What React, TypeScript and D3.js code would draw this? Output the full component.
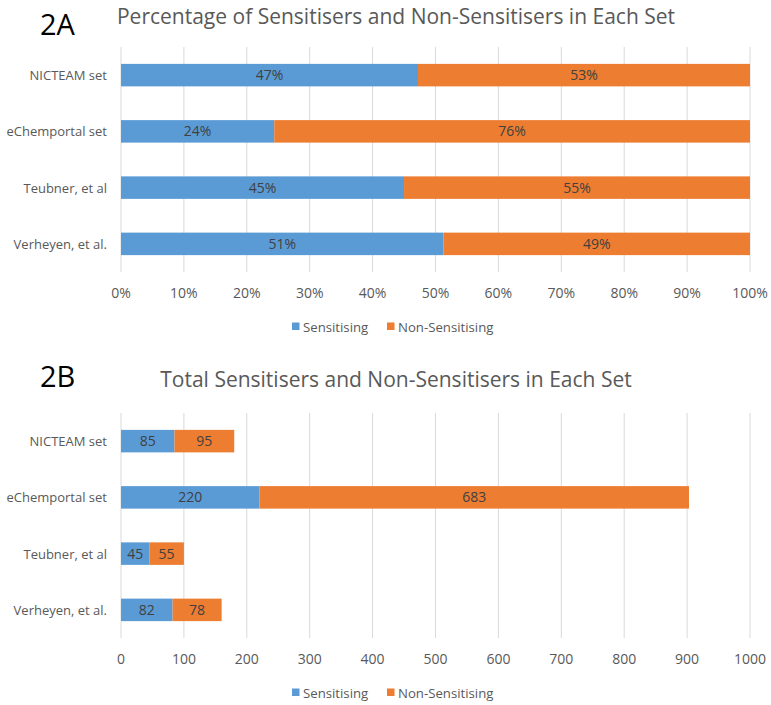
import React from "react";
import * as d3 from "d3";

const categories = ["NICTEAM set", "eChemportal set", "Teubner, et al", "Verheyen, et al."];
const sensitising = [85, 220, 45, 82];
const nonSensitising = [95, 683, 55, 78];
const seriesNames = ["Sensitising", "Non-Sensitising"];
const pctTicks = [0, 10, 20, 30, 40, 50, 60, 70, 80, 90, 100];
const countTicks = [0, 100, 200, 300, 400, 500, 600, 700, 800, 900, 1000];

const COLORS = ["#5B9BD5", "#ED7D31"];
const FONT = "'Open Sans', sans-serif";
const TEXT = "#595959";
const LABEL = "#404040";
const GRID = "#D9D9D9";

type PanelProps = {
  top: number;
  tag: string;
  title: string;
  percent: boolean;
};

function Panel({ top, tag, title, percent }: PanelProps) {
  const left = 121;
  const right = 750;
  const plotTop = top + 47;
  const plotBottom = top + 272;
  const ticks = percent ? pctTicks : countTicks;
  const x = d3.scaleLinear().domain([0, percent ? 100 : 1000]).range([left, right]);
  const y = d3.scaleBand().domain(categories).range([plotTop, plotBottom]).paddingInner(0.6).paddingOuter(0.3);

  const rows = categories.map((c, i) => {
    const total = sensitising[i] + nonSensitising[i];
    const vals = percent
      ? [(sensitising[i] / total) * 100, (nonSensitising[i] / total) * 100]
      : [sensitising[i], nonSensitising[i]];
    const labels = percent
      ? [Math.round(vals[0]) + "%", Math.round(vals[1]) + "%"]
      : [String(sensitising[i]), String(nonSensitising[i])];
    return { c, vals, labels };
  });
  const stack = d3.stack<any>().keys(["0", "1"])(rows.map((r) => ({ "0": r.vals[0], "1": r.vals[1] })));

  return (
    <g>
      <text x={40} y={top + (percent ? 35 : 21)} fontSize={29} fontFamily={FONT} fill="#000">{tag}</text>
      <text x={396} y={top + (percent ? 24 : 21)} textAnchor="middle" fontSize={21} fontFamily={FONT} fill={TEXT}>{title}</text>
      {ticks.map((t) => (
        <g key={t}>
          <line x1={x(t)} x2={x(t)} y1={plotTop} y2={plotBottom} stroke={GRID} strokeWidth={1} />
          <text x={x(t)} y={top + 298} textAnchor="middle" fontSize={14} fontFamily={FONT} fill={TEXT}>
            {percent ? t + "%" : t}
          </text>
        </g>
      ))}
      {categories.map((c) => (
        <text key={c} x={107} y={(y(c) as number) + y.bandwidth() / 2 + 5} textAnchor="end" fontSize={13} fontFamily={FONT} fill={TEXT}>{c}</text>
      ))}
      {stack.map((s, si) =>
        s.map((d, i) => (
          <g key={si + "-" + i}>
            <rect x={x(d[0])} y={y(categories[i]) as number} width={x(d[1]) - x(d[0])} height={y.bandwidth()} fill={COLORS[si]} />
            <text x={(x(d[0]) + x(d[1])) / 2} y={(y(categories[i]) as number) + y.bandwidth() / 2 + 5} textAnchor="middle" fontSize={14} fontFamily={FONT} fill={LABEL}>
              {rows[i].labels[si]}
            </text>
          </g>
        ))
      )}
      <g>
        <rect x={292} y={top + 322.5} width={7.5} height={7.5} fill={COLORS[0]} />
        <text x={303} y={top + 332} fontSize={13.2} fontFamily={FONT} fill={TEXT}>{seriesNames[0]}</text>
        <rect x={387} y={top + 322.5} width={7.5} height={7.5} fill={COLORS[1]} />
        <text x={398} y={top + 332} fontSize={13.2} fontFamily={FONT} fill={TEXT}>{seriesNames[1]}</text>
      </g>
    </g>
  );
}

export default function App() {
  return (
    <svg width={771} height={705} style={{ position: "absolute", left: 0, top: 0, background: "#fff" }}>
      <rect width={771} height={705} fill="#fff" />
      <Panel top={0} tag="2A" title="Percentage of Sensitisers and Non-Sensitisers in Each Set" percent={true} />
      <Panel top={366} tag="2B" title="Total Sensitisers and Non-Sensitisers in Each Set" percent={false} />
    </svg>
  );
}
